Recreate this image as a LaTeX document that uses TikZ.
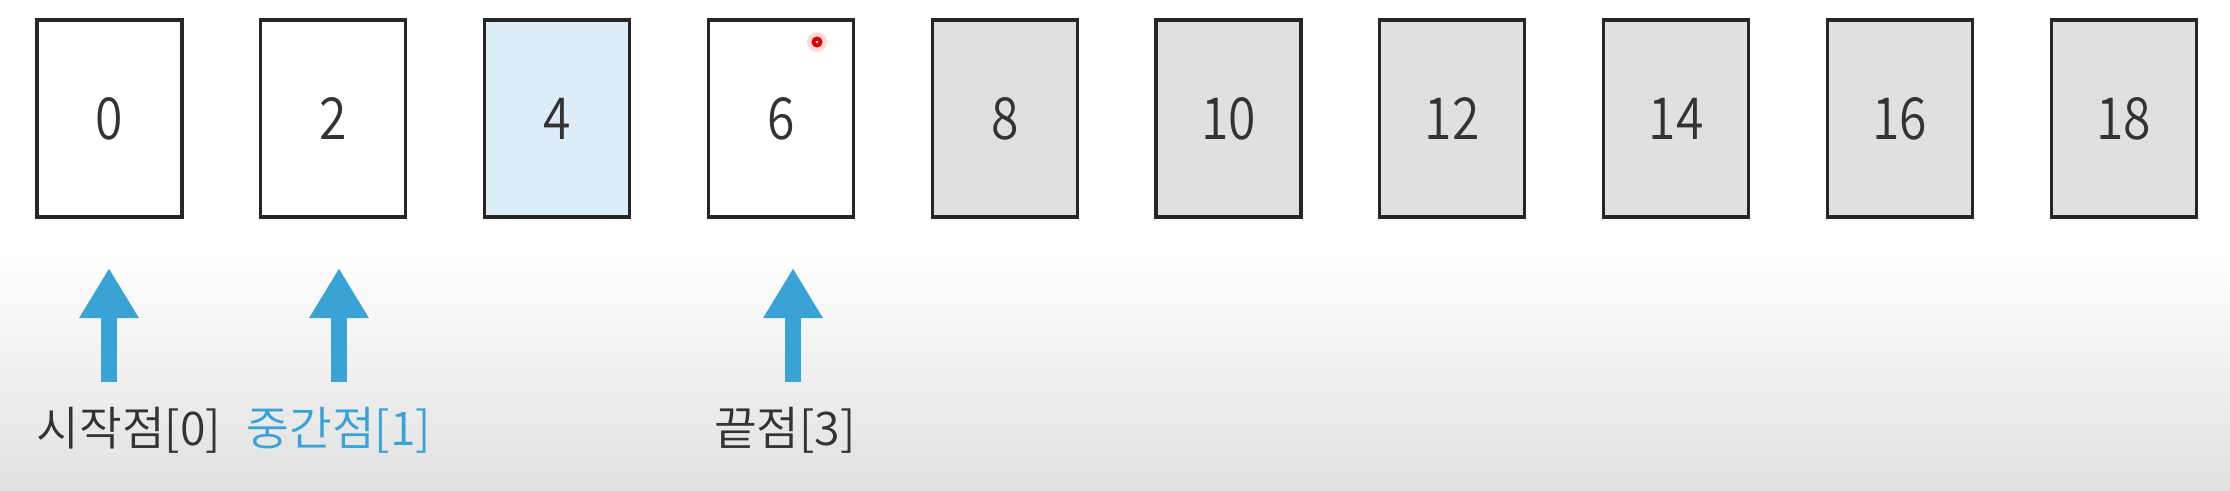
\documentclass[tikz,border=0pt]{standalone}
\usepackage{fontspec}
\setmainfont{Noto Sans CJK KR}
\newfontfamily\lightfont{Noto Sans CJK KR DemiLight}
\newfontfamily\digitfont{Noto Sans CJK KR DemiLight}[FakeStretch=0.86]
\usetikzlibrary{arrows.meta}

\definecolor{cellgray}{HTML}{E0E0E2}
\definecolor{cellblue}{HTML}{DDEDF7}
\definecolor{ptrblue}{HTML}{3AA3D5}
\definecolor{txtgray}{HTML}{333333}

\tikzset{
  cell/.style={draw=black!85, line width=0.9pt, minimum width=1.45cm,
    minimum height=1.97cm, inner sep=0pt, text=txtgray,
    font=\digitfont\fontsize{16.5}{16.5}\selectfont},
  ptr/.style={-{Triangle[width=0.56cm,length=0.5cm]}, line width=0.155cm,
    draw=ptrblue},
  lbl/.style={anchor=base, inner sep=0pt, text=txtgray,
    font=\lightfont\fontsize{13.2}{13.2}\selectfont}
}

\begin{document}
\begin{tikzpicture}[x=0.01cm,y=-0.01cm]
    % background
    \fill[white] (0,0) rectangle (2230,250);
    \shade[top color=white,bottom color=black!12] (0,250) rectangle (2230,490);
    \useasboundingbox (0,0) rectangle (2230,490);

    % array cells
    \foreach \v/\c [count=\i from 0] in {0/white,2/white,4/cellblue,6/white,
        8/cellgray,10/cellgray,12/cellgray,14/cellgray,16/cellgray,18/cellgray}
      \node[cell,fill=\c] (b\i) at (109.5+223.8*\i,118.5) {\v};

    % pointer marker
    \fill[red!15] (817,42) circle (0.1cm);
    \draw[red!85!black,line width=1.1pt] (817,42) circle (0.035cm);

    % pointers
    \coordinate (t0) at (109,268);
    \coordinate (s0) at (109,382);
    \coordinate (t1) at (339,268);
    \coordinate (s1) at (339,382);
    \coordinate (t3) at (793,268);
    \coordinate (s3) at (793,382);

    \draw[ptr] (s0) -- (t0);
    \draw[ptr] (s1) -- (t1);
    \draw[ptr] (s3) -- (t3);

    \node[lbl] (l0) at (129,445) {시작점[0]};
    \node[lbl,text=ptrblue] (l1) at (339,445) {중간점[1]};
    \node[lbl] (l3) at (785,445) {끝점[3]};
\end{tikzpicture}
\end{document}
